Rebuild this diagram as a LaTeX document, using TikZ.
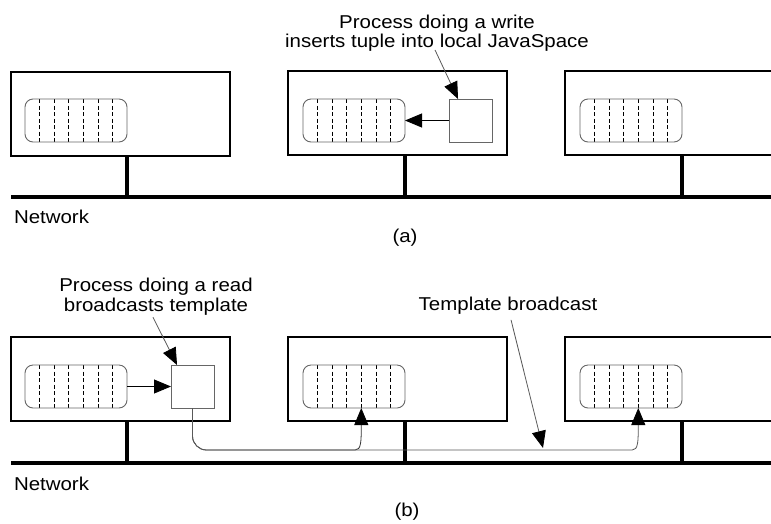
\documentclass[tikz,border=0pt]{standalone}
\usepackage{fontspec}
\setmainfont{Liberation Sans}[FakeStretch=1.1]
\usetikzlibrary{arrows.meta,calc}
\tikzset{
  machine/.style={draw=black, line width=2.8pt, minimum width=219pt, minimum height=84pt, anchor=north west, inner sep=0pt, outer sep=0pt},
  tuplesp/.style={draw=black!60, line width=0.9pt, rounded corners=8pt, minimum width=102pt, minimum height=43pt, anchor=north west, inner sep=0pt, outer sep=0pt,
    path picture={\foreach \i in {1,...,6}{\draw[black, line width=0.7pt, dash pattern=on 4pt off 2.5pt]
      ($(path picture bounding box.north west)!\i/7!(path picture bounding box.north east)$) --
      ($(path picture bounding box.south west)!\i/7!(path picture bounding box.south east)$);}}},
  procsq/.style={draw=black!60, line width=1pt, minimum width=43pt, minimum height=43pt, anchor=north west, inner sep=0pt, outer sep=0pt},
  bus/.style={line width=3.8pt, black},
  lbl/.style={font=\fontsize{18.6pt}{19.5pt}\selectfont, align=center, inner sep=0pt, outer sep=0pt},
  tip/.style={-{Triangle[length=17pt,width=14pt,color=black,fill=black]}},
  flow/.style={black, line width=0.9pt, tip},
  ptr/.style={draw=black!65, line width=0.8pt, tip},
}
\begin{document}
\begin{tikzpicture}[x=1pt,y=-1pt]
\useasboundingbox (0,0) rectangle (771,523);
\clip (0,0) rectangle (771,523);
% ---------- (a) ----------
\node[machine] (m1a) at (11,72) {};
\node[machine] (m2a) at (288,71) {};
\node[machine] (m3a) at (565,71) {};
\node[tuplesp] (t1a) at (25,99) {};
\node[tuplesp] (t2a) at (303,99) {};
\node[tuplesp] (t3a) at (580,99) {};
\node[procsq] (pa) at (449,99) {};
\coordinate (netaL) at (11,197);
\coordinate (netaR) at (780,197);
\draw[bus] (netaL) -- (netaR);
\foreach \t/\m in {t1a/m1a,t2a/m2a,t3a/m3a}{\draw[bus] (\m.south -| \t.east) -- (\t.east |- netaL);}
\draw[flow] (pa.west) -- (t2a.east);
\node[lbl, anchor=north] (wtext) at (437,14.7) {Process doing a write\\inserts tuple into local JavaSpace};
\draw[ptr] ($(wtext.south)+(-2,-1.6)$) -- ($(pa.north west)!0.21!(pa.north east)$);
\node[lbl, anchor=base west] (neta) at (14,223) {Network};
\node[lbl, anchor=base] (capa) at (405,242.6) {(a)};
% ---------- (b) ----------
\node[machine] (m1b) at (11,337) {};
\node[machine] (m2b) at (288,337) {};
\node[machine] (m3b) at (565,337) {};
\node[tuplesp] (t1b) at (25,365) {};
\node[tuplesp] (t2b) at (303,365) {};
\node[tuplesp] (t3b) at (580,365) {};
\node[procsq] (pb) at (171,365) {};
\coordinate (netbL) at (11,463);
\coordinate (netbR) at (780,463);
\draw[bus] (netbL) -- (netbR);
\foreach \t/\m in {t1b/m1b,t2b/m2b,t3b/m3b}{\draw[bus] (\m.south -| \t.east) -- (\t.east |- netbL);}
\draw[flow] (t1b.east) -- (pb.west);
\coordinate (in2) at ($(t2b.south west)!4/7!(t2b.south east)$);
\coordinate (in3) at ($(t3b.south west)!4/7!(t3b.south east)$);
\draw[ptr, draw=black!80, line width=0.8pt, rounded corners=14pt] (pb.south) |- ($(in2)+(-20,42)$) [sharp corners] .. controls ($(in2)+(0,42)$) and ($(in2)+(0,33)$) .. ($(in2)+(0,16)$) -- (in2);
\draw[ptr, draw=black!65, line width=0.8pt, rounded corners=14pt] (pb.south) |- ($(in3)+(-20,42)$) [sharp corners] .. controls ($(in3)+(0,42)$) and ($(in3)+(0,33)$) .. ($(in3)+(0,16)$) -- (in3);
\node[lbl, anchor=north] (rtext) at (156,278.4) {Process doing a read\\broadcasts template};
\draw[ptr] ($(rtext.south)+(-3,2)$) -- ($(pb.north west)!0.14!(pb.north east)$);
\node[lbl, anchor=base] (ttext) at (508,310) {Template broadcast};
\coordinate (hit) at (543,448);
\draw[ptr] ($(ttext.south)+(3,6)$) -- (hit);
\node[lbl, anchor=base west] (netb) at (14,490) {Network};
\node[lbl, anchor=base] (capb) at (407,516) {(b)};
\end{tikzpicture}
\end{document}
